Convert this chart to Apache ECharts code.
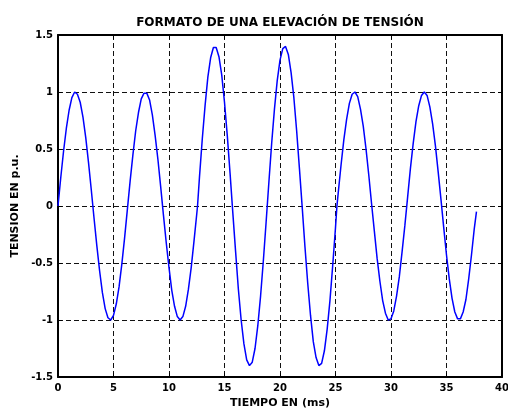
<!DOCTYPE html>
<html>
<head>
<meta charset="utf-8">
<script src="https://cdn.jsdelivr.net/npm/echarts@6/dist/echarts.min.js"></script>
<style>
html,body{margin:0;padding:0;background:#fff;}
#chart{width:508px;height:410px;}
</style>
</head>
<body>
<div id="chart"></div>
<script>
// Time in ms
var times = [0,0.25,0.5,0.75,1,1.25,1.5,1.75,2,2.25,2.5,2.75,3,3.25,3.5,3.75,4,4.25,4.5,4.75,
  5,5.25,5.5,5.75,6,6.25,6.5,6.75,7,7.25,7.5,7.75,8,8.25,8.5,8.75,9,9.25,9.5,9.75,
  10,10.25,10.5,10.75,11,11.25,11.5,11.75,12,12.25,12.5,12.57,12.75,13,13.25,13.5,13.75,14,14.25,14.5,14.75,
  15,15.25,15.5,15.75,16,16.25,16.5,16.75,17,17.25,17.5,17.75,18,18.25,18.5,18.75,19,19.25,19.5,19.75,
  20,20.25,20.5,20.75,21,21.25,21.5,21.75,22,22.25,22.5,22.75,23,23.25,23.5,23.75,24,24.25,24.5,24.75,
  25,25.13,25.25,25.5,25.75,26,26.25,26.5,26.75,27,27.25,27.5,27.75,28,28.25,28.5,28.75,29,29.25,29.5,29.75,
  30,30.25,30.5,30.75,31,31.25,31.5,31.75,32,32.25,32.5,32.75,33,33.25,33.5,33.75,34,34.25,34.5,34.75,
  35,35.25,35.5,35.75,36,36.25,36.5,36.75,37,37.25,37.5,37.7];
// Voltage in p.u.
var voltage = [0,0.25,0.48,0.68,0.84,0.95,1.0,0.98,0.91,0.78,0.6,0.38,0.14,-0.11,-0.35,-0.57,-0.76,-0.9,-0.98,-1.0,
  -0.96,-0.86,-0.71,-0.51,-0.28,-0.03,0.22,0.45,0.66,0.82,0.94,0.99,0.99,0.93,0.8,0.62,0.41,0.17,-0.08,-0.32,
  -0.54,-0.74,-0.88,-0.97,-1.0,-0.97,-0.88,-0.73,-0.54,-0.31,-0.07,0,0.26,0.59,0.88,1.13,1.3,1.39,1.39,1.31,1.15,
  0.91,0.62,0.29,-0.06,-0.4,-0.73,-1.0,-1.21,-1.35,-1.4,-1.37,-1.25,-1.05,-0.79,-0.48,-0.14,0.21,0.55,0.85,1.1,
  1.28,1.38,1.4,1.33,1.17,0.95,0.66,0.33,-0.01,-0.36,-0.68,-0.96,-1.19,-1.33,-1.4,-1.38,-1.27,-1.08,-0.83,-0.52,
  -0.19,0,0.12,0.36,0.58,0.76,0.9,0.98,1.0,0.96,0.85,0.7,0.5,0.27,0.02,-0.22,-0.46,-0.66,-0.83,-0.94,-1.0,
  -0.99,-0.92,-0.79,-0.62,-0.4,-0.17,0.08,0.33,0.55,0.74,0.88,0.97,1.0,0.97,0.87,0.72,0.53,0.3,0.06,-0.19,
  -0.43,-0.64,-0.81,-0.93,-0.99,-0.99,-0.93,-0.82,-0.64,-0.43,-0.2,-0.05];
var title = 'FORMATO DE UNA ELEVACIÓN DE TENSIÓN';
var xName = 'TIEMPO EN (ms)';
var yName = 'TENSION EN p.u.';

var pts = times.map(function(t,i){return [t, voltage[i]];});
var font = 'DejaVu Sans, Verdana, sans-serif';
var chart = echarts.init(document.getElementById('chart'), null, {renderer:'canvas'});
var gridDash = {color:'#111', width:1, type:[5,3]};
var border = {show:true, onZero:false, lineStyle:{color:'#000', width:2}};
var ticks = {show:true, inside:true, length:4, lineStyle:{color:'#000', width:1}};
chart.setOption({
  animation:false,
  backgroundColor:'#fff',
  title:{text:title, left:275, top:12, textAlign:'center',
    textStyle:{fontFamily:font, fontSize:12, fontWeight:'bold', color:'#000'}},
  grid:{left:58, right:6, top:35, bottom:33, containLabel:false, outerBoundsMode:'none'},
  xAxis:[{
    type:'value', min:0, max:40, interval:5, position:'bottom',
    name:xName, nameLocation:'middle', nameGap:20,
    nameTextStyle:{fontFamily:font, fontSize:11, fontWeight:'bold', color:'#000'},
    axisLine:border, axisTick:ticks,
    axisLabel:{margin:6, fontFamily:font, fontSize:10, fontWeight:'bold', color:'#000'},
    splitLine:{show:true, lineStyle:gridDash}
  },{
    type:'value', min:0, max:40, interval:5, position:'top',
    axisLine:border, axisTick:ticks,
    axisLabel:{show:false}, splitLine:{show:false}
  }],
  yAxis:[{
    type:'value', min:-1.5, max:1.5, interval:0.5, position:'left',
    name:yName, nameLocation:'middle', nameGap:32, nameRotate:90,
    nameTextStyle:{fontFamily:font, fontSize:11, fontWeight:'bold', color:'#000'},
    axisLine:border, axisTick:ticks,
    axisLabel:{margin:5, fontFamily:font, fontSize:10, fontWeight:'bold', color:'#000'},
    splitLine:{show:true, lineStyle:gridDash}
  },{
    type:'value', min:-1.5, max:1.5, interval:0.5, position:'right',
    axisLine:border, axisTick:ticks,
    axisLabel:{show:false}, splitLine:{show:false}
  }],
  series:[{
    type:'line', data:pts, xAxisIndex:0, yAxisIndex:0,
    smooth:false, showSymbol:false, symbol:'none',
    lineStyle:{color:'#0000ff', width:1.5}
  }]
});
</script>
</body>
</html>
